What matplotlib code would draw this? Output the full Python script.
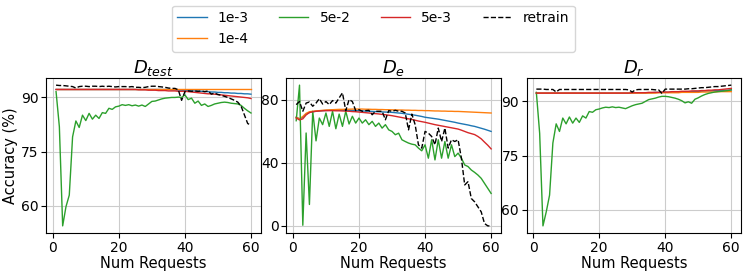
import numpy as np
import matplotlib
matplotlib.use("Agg")
import matplotlib.pyplot as plt

requests = np.arange(1, 61)

labels = ["1e-3", "1e-4", "5e-2", "5e-3", "retrain"]
colors = ["tab:blue", "tab:orange", "tab:green", "tab:red", "black"]
titles = ["$D_{test}$", "$D_e$", "$D_r$"]

# D_test
test_1e3 = [92.2, 92.2, 92.2, 92.2, 92.2, 92.2, 92.2, 92.2, 92.2, 92.2,
            92.2, 92.2, 92.2, 92.2, 92.2, 92.2, 92.2, 92.2, 92.2, 92.2,
            92.2, 92.2, 92.2, 92.2, 92.2, 92.2, 92.2, 92.2, 92.2, 92.2,
            92.2, 92.2, 92.2, 92.2, 92.2, 92.1, 92.1, 92.0, 92.0, 91.9,
            91.9, 91.8, 91.8, 91.7, 91.7, 91.6, 91.6, 91.5, 91.5, 91.4,
            91.4, 91.3, 91.3, 91.2, 91.2, 91.1, 91.1, 91.0, 91.0, 90.9]
test_1e4 = [92.3, 92.3, 92.3, 92.3, 92.3, 92.3, 92.3, 92.3, 92.3, 92.3,
            92.3, 92.3, 92.3, 92.3, 92.3, 92.3, 92.3, 92.3, 92.3, 92.3,
            92.3, 92.3, 92.3, 92.3, 92.3, 92.3, 92.3, 92.3, 92.3, 92.3,
            92.3, 92.3, 92.3, 92.3, 92.3, 92.3, 92.3, 92.3, 92.3, 92.3,
            92.3, 92.3, 92.3, 92.3, 92.3, 92.3, 92.3, 92.3, 92.3, 92.3,
            92.3, 92.3, 92.3, 92.3, 92.3, 92.3, 92.3, 92.3, 92.3, 92.3]
test_5e2 = [91.6, 81.9, 54.5, 59.8, 63.0, 79.1, 83.5, 81.7, 85.1, 83.6,
            85.6, 84.0, 85.1, 84.2, 85.8, 85.6, 87.0, 86.7, 87.4, 87.6,
            88.0, 87.8, 88.0, 87.7, 87.9, 87.6, 87.9, 87.5, 88.2, 88.9,
            89.0, 89.3, 89.6, 89.8, 89.9, 90.0, 90.0, 90.1, 90.0, 90.7,
            89.4, 89.8, 88.4, 89.0, 87.8, 88.2, 87.5, 87.8, 88.2, 88.4,
            88.6, 88.7, 88.6, 88.4, 88.3, 88.2, 87.8, 87.0, 86.3, 85.7]
test_5e3 = [92.2, 92.2, 92.2, 92.2, 92.2, 92.2, 92.2, 92.2, 92.2, 92.2,
            92.2, 92.2, 92.2, 92.2, 92.2, 92.2, 92.2, 92.2, 92.2, 92.2,
            92.2, 92.2, 92.2, 92.2, 92.2, 92.1, 92.1, 92.1, 92.0, 92.0,
            92.0, 91.9, 91.9, 91.9, 91.8, 91.8, 91.8, 91.7, 91.7, 91.7,
            91.6, 91.5, 91.4, 91.3, 91.2, 91.1, 91.0, 91.0, 90.9, 90.8,
            90.7, 90.6, 90.5, 90.4, 90.3, 90.2, 90.1, 90.0, 89.9, 89.7]
test_retrain = [93.4, 93.3, 93.3, 93.2, 93.1, 93.0, 92.6, 93.0, 93.1, 93.1,
                93.0, 93.1, 93.1, 93.0, 93.1, 93.0, 93.1, 93.0, 92.9, 93.0,
                93.0, 93.0, 92.9, 93.0, 92.8, 92.8, 92.7, 92.8, 93.0, 93.1,
                93.1, 93.0, 92.9, 92.8, 92.6, 92.5, 92.5, 92.1, 89.2, 91.6,
                91.8, 91.7, 91.8, 91.7, 91.8, 91.6, 91.8, 90.9, 91.2, 90.8,
                90.6, 90.3, 90.0, 89.6, 89.2, 88.7, 87.6, 85.2, 82.8, 82.3]

# D_e
e_1e3 = [69.0, 68.0, 69.0, 71.0, 72.0, 72.5, 72.8, 73.0, 73.2, 73.3,
         73.4, 73.5, 73.5, 73.5, 73.5, 73.4, 73.4, 73.3, 73.2, 73.1,
         73.0, 72.9, 72.8, 72.7, 72.6, 72.5, 72.4, 72.3, 72.2, 72.1,
         71.9, 71.7, 71.5, 71.2, 70.9, 70.6, 70.3, 69.9, 69.5, 69.0,
         68.7, 68.4, 68.1, 67.8, 67.4, 67.0, 66.6, 66.2, 65.8, 65.3,
         64.9, 64.5, 64.1, 63.6, 63.2, 62.6, 62.0, 61.4, 60.7, 60.0]
e_1e4 = [69.0, 68.0, 69.5, 71.5, 72.5, 72.8, 73.0, 73.2, 73.4, 73.6,
         73.7, 73.8, 73.9, 74.0, 74.0, 74.1, 74.1, 74.2, 74.2, 74.2,
         74.2, 74.1, 74.1, 74.0, 74.0, 73.9, 73.9, 73.8, 73.8, 73.7,
         73.7, 73.6, 73.6, 73.5, 73.5, 73.4, 73.4, 73.3, 73.3, 73.2,
         73.2, 73.1, 73.0, 73.0, 72.9, 72.9, 72.8, 72.8, 72.7, 72.7,
         72.6, 72.5, 72.4, 72.3, 72.2, 72.1, 72.0, 71.9, 71.8, 71.7]
e_5e2 = [66.8, 89.4, 0.4, 59.0, 13.6, 72.8, 54.0, 68.5, 64.3, 71.7,
         63.2, 72.8, 61.7, 71.0, 63.2, 72.8, 64.7, 69.6, 65.3, 68.5,
         65.3, 67.4, 64.3, 66.4, 63.2, 65.3, 62.1, 64.3, 61.0, 60.0,
         57.9, 58.9, 54.7, 53.6, 52.6, 51.9, 51.5, 49.4, 47.7, 51.5,
         43.0, 54.7, 41.9, 54.7, 43.0, 53.6, 43.0, 51.5, 44.0, 46.2,
         43.0, 38.7, 37.7, 35.5, 34.0, 32.3, 30.2, 27.0, 23.8, 20.6]
e_5e3 = [68.5, 67.3, 68.0, 70.5, 72.0, 72.5, 72.8, 73.0, 73.1, 73.2,
         73.2, 73.2, 73.1, 73.1, 73.0, 72.9, 72.8, 72.6, 72.5, 72.3,
         72.1, 71.9, 71.7, 71.5, 71.3, 71.1, 70.8, 70.6, 70.3, 70.0,
         69.6, 69.2, 68.8, 68.4, 68.0, 67.6, 67.1, 66.6, 66.2, 65.8,
         65.3, 64.8, 64.3, 63.9, 63.5, 63.1, 62.7, 62.3, 61.9, 61.5,
         60.8, 60.0, 59.2, 58.6, 58.0, 56.8, 55.3, 53.2, 51.2, 48.9]
e_retrain = [77.0, 79.0, 72.8, 78.0, 78.7, 76.0, 78.0, 80.8, 77.4, 79.0,
             77.0, 79.6, 78.0, 81.3, 84.5, 73.2, 80.2, 79.0, 73.2, 73.8,
             72.8, 73.2, 73.4, 70.6, 72.8, 72.8, 72.8, 67.4, 73.2, 72.8,
             73.4, 72.8, 72.8, 71.7, 61.0, 71.0, 64.3, 51.5, 49.4, 60.0,
             58.9, 56.8, 51.5, 62.1, 53.6, 62.1, 49.4, 54.7, 53.6, 54.7,
             43.0, 26.0, 28.1, 17.4, 15.3, 12.1, 8.9, 1.5, 0.0, 0.0]

# D_r
r_1e3 = [92.3, 92.3, 92.3, 92.3, 92.3, 92.3, 92.3, 92.3, 92.3, 92.3,
         92.3, 92.3, 92.3, 92.3, 92.3, 92.3, 92.3, 92.3, 92.3, 92.3,
         92.3, 92.3, 92.3, 92.3, 92.3, 92.3, 92.3, 92.3, 92.3, 92.4,
         92.4, 92.4, 92.4, 92.4, 92.4, 92.4, 92.5, 92.5, 92.5, 92.5,
         92.5, 92.6, 92.6, 92.6, 92.6, 92.7, 92.7, 92.7, 92.8, 92.8,
         92.8, 92.9, 92.9, 92.9, 93.0, 93.0, 93.0, 93.1, 93.1, 93.2]
r_1e4 = [92.3, 92.3, 92.3, 92.3, 92.3, 92.3, 92.3, 92.3, 92.3, 92.3,
         92.3, 92.3, 92.3, 92.3, 92.3, 92.3, 92.3, 92.3, 92.3, 92.3,
         92.3, 92.3, 92.3, 92.3, 92.3, 92.3, 92.3, 92.3, 92.3, 92.3,
         92.3, 92.3, 92.3, 92.3, 92.3, 92.3, 92.3, 92.4, 92.4, 92.4,
         92.4, 92.4, 92.4, 92.4, 92.5, 92.5, 92.5, 92.5, 92.5, 92.5,
         92.6, 92.6, 92.6, 92.6, 92.6, 92.7, 92.7, 92.7, 92.7, 92.7]
r_5e2 = [92.5, 81.2, 55.6, 59.5, 64.1, 78.5, 83.8, 81.7, 85.4, 83.8,
         85.7, 84.0, 85.4, 84.2, 86.0, 85.4, 87.2, 87.0, 87.7, 87.9,
         88.2, 88.4, 88.3, 88.5, 88.3, 88.4, 88.2, 88.0, 88.4, 88.8,
         89.1, 89.3, 89.5, 90.0, 90.5, 90.7, 90.9, 91.2, 91.4, 91.4,
         91.3, 91.1, 90.9, 90.6, 90.2, 89.6, 89.9, 89.5, 90.6, 91.0,
         91.5, 91.9, 92.2, 92.4, 92.6, 92.7, 92.8, 92.9, 93.0, 93.2]
r_5e3 = [92.3, 92.3, 92.3, 92.3, 92.3, 92.3, 92.3, 92.3, 92.3, 92.3,
         92.3, 92.3, 92.3, 92.3, 92.3, 92.3, 92.3, 92.3, 92.3, 92.3,
         92.3, 92.3, 92.3, 92.3, 92.3, 92.3, 92.3, 92.3, 92.3, 92.4,
         92.4, 92.4, 92.4, 92.4, 92.5, 92.5, 92.5, 92.5, 92.6, 92.6,
         92.6, 92.7, 92.7, 92.7, 92.8, 92.8, 92.8, 92.9, 92.9, 92.9,
         93.0, 93.0, 93.1, 93.1, 93.2, 93.2, 93.3, 93.4, 93.5, 93.6]
r_retrain = [93.4, 93.4, 93.4, 93.3, 93.3, 93.3, 92.6, 93.3, 93.3, 93.3,
             93.3, 93.3, 93.3, 93.3, 93.3, 93.3, 93.3, 93.3, 93.3, 93.3,
             93.3, 93.3, 93.3, 93.3, 93.3, 93.3, 93.3, 93.3, 93.2, 92.6,
             93.2, 93.3, 93.3, 93.3, 93.3, 93.3, 93.2, 93.2, 92.2, 93.4,
             93.4, 93.4, 93.4, 93.4, 93.4, 93.4, 93.5, 93.5, 93.6, 93.7,
             93.8, 93.8, 93.9, 94.0, 94.1, 94.1, 94.2, 94.3, 94.4, 94.5]

panels = [
    [test_1e3, test_1e4, test_5e2, test_5e3, test_retrain],
    [e_1e3, e_1e4, e_5e2, e_5e3, e_retrain],
    [r_1e3, r_1e4, r_5e2, r_5e3, r_retrain],
]
yticks = [[60, 75, 90], [0, 40, 80], [60, 75, 90]]

fig, axes = plt.subplots(1, 3, figsize=(7.47, 2.75), dpi=100)
fig.subplots_adjust(left=0.062, right=0.992, top=0.716, bottom=0.153, wspace=0.12)

for ax, series, title, ticks in zip(axes, panels, titles, yticks):
    for vals, lab, col in zip(series, labels, colors):
        ls = "--" if lab == "retrain" else "-"
        ax.plot(requests, vals, ls, color=col, lw=1.0, label=lab)
    ax.set_title(title, fontsize=13, pad=2)
    ax.set_xlabel("Num Requests", fontsize=10.5, labelpad=1)
    ax.set_xticks([0, 20, 40, 60])
    ax.set_yticks(ticks)
    ax.tick_params(labelsize=10, pad=2)
    ax.grid(True, color="#cccccc", lw=0.8)

axes[0].set_ylabel("Accuracy (%)", fontsize=10.5, labelpad=2)

handles, labs = axes[0].get_legend_handles_labels()
fig.legend(handles, labs, loc="upper center", bbox_to_anchor=(0.5, 1.0),
           ncol=4, fontsize=10, handlelength=2.1, columnspacing=2.2,
           borderaxespad=0.4)

fig.savefig("out.png", dpi=100)
